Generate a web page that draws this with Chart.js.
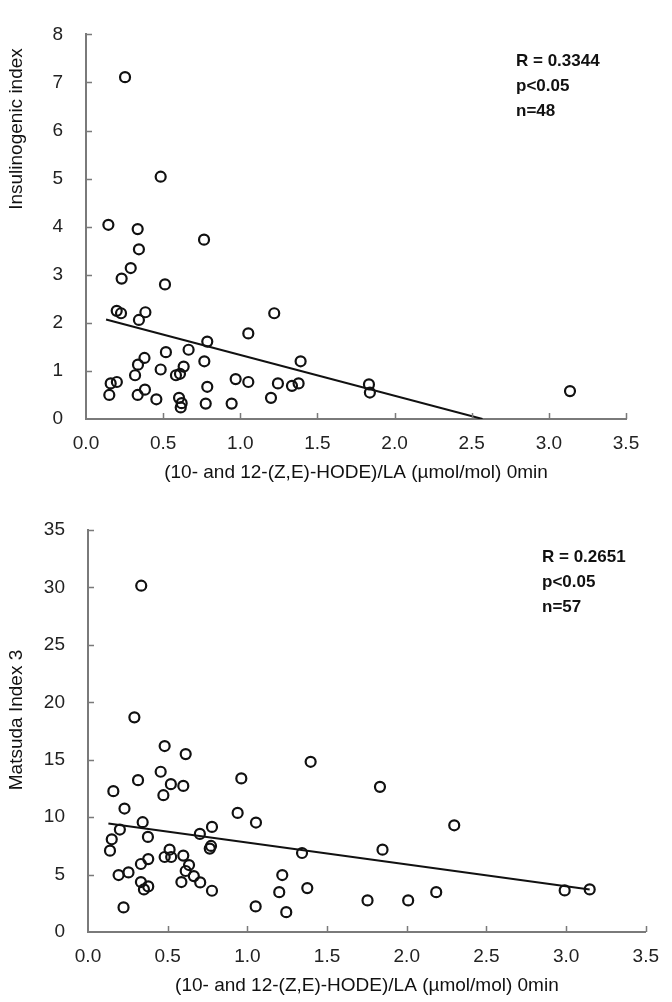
<!DOCTYPE html>
<html>
<head>
<meta charset="utf-8">
<script src="https://cdn.jsdelivr.net/npm/chart.js@4/dist/chart.umd.min.js"></script>
<style>
  body { margin: 0; background: #fff; }
  .box { position: absolute; left: 0; }
</style>
</head>
<body>
<div class="box" style="top:0"><canvas id="chart_top" width="672" height="490"></canvas></div>
<div class="box" style="top:490px"><canvas id="chart_bottom" width="672" height="512"></canvas></div>
<script>
"use strict";

// top panel: HODE/LA vs insulinogenic index (n=48)
var topX = [0.253, 0.484, 0.145, 0.335, 0.765, 0.343, 0.29, 0.231, 0.512, 0.199, 0.227, 0.385,
    0.343, 1.22, 1.052, 0.786, 0.665, 0.518, 0.379, 1.391, 0.767, 0.337, 0.633, 0.484,
    0.583, 0.609, 0.318, 0.97, 1.052, 1.244, 1.335, 1.378, 0.16, 0.2, 0.786, 0.382,
    0.151, 0.335, 0.456, 1.199, 0.603, 0.62, 0.614, 0.776, 0.944, 1.834, 1.84, 3.137];
var topY = [7.11, 5.04, 4.04, 3.95, 3.73, 3.53, 3.14, 2.92, 2.80, 2.25, 2.20, 2.22,
    2.06, 2.20, 1.78, 1.61, 1.44, 1.39, 1.27, 1.20, 1.20, 1.13, 1.09, 1.03,
    0.91, 0.94, 0.91, 0.83, 0.77, 0.74, 0.69, 0.74, 0.74, 0.77, 0.67, 0.61,
    0.50, 0.50, 0.41, 0.44, 0.44, 0.33, 0.24, 0.32, 0.32, 0.72, 0.55, 0.58];
var topFitX = [0.13, 2.57];
var topFitY = [2.07, 0.0];
var topNotes = ['R = 0.3344', 'p<0.05', 'n=48'];

// bottom panel: HODE/LA vs Matsuda index 3 (n=57)
var bottomX = [0.334, 0.291, 0.481, 0.613, 1.397, 0.456, 0.314, 0.962, 0.52, 0.598, 0.159, 0.473,
    0.229, 0.939, 1.054, 0.343, 0.778, 0.2, 0.702, 0.376, 0.149, 0.772, 0.764, 0.138,
    0.512, 1.343, 0.481, 0.522, 0.598, 0.378, 0.332, 0.634, 0.613, 0.192, 0.254, 1.219,
    0.664, 0.332, 0.586, 0.704, 0.378, 0.351, 0.778, 1.376, 1.2, 0.223, 1.052, 1.244,
    1.832, 2.298, 1.848, 1.754, 2.009, 2.185, 2.991, 3.148];
var bottomY = [30.15, 18.69, 16.19, 15.49, 14.82, 13.95, 13.22, 13.37, 12.87, 12.72, 12.26, 11.91,
    10.75, 10.37, 9.53, 9.56, 9.15, 8.92, 8.54, 8.28, 8.07, 7.49, 7.26, 7.08,
    7.17, 6.88, 6.53, 6.53, 6.65, 6.35, 5.92, 5.83, 5.31, 4.96, 5.19, 4.96,
    4.87, 4.35, 4.35, 4.32, 3.97, 3.71, 3.59, 3.82, 3.47, 2.14, 2.23, 1.73,
    12.64, 9.29, 7.17, 2.75, 2.75, 3.47, 3.62, 3.71];
var bottomFitX = [0.128, 3.148];
var bottomFitY = [9.44, 3.71];
var bottomNotes = ['R = 0.2651', 'p<0.05', 'n=57'];

var xTitle = '(10- and 12-(Z,E)-HODE)/LA (\u00b5mol/mol) 0min';
var axisGray = '#7a7a7a';
var fontFamily = '"Liberation Sans", Arial, sans-serif';

function pairs(xs, ys) {
    return xs.map(function (x, i) { return { x: x, y: ys[i] }; });
}

// inward tick marks, stats text and the rotated y title
var panelMarks = {
    id: 'panelMarks',
    afterDraw: function (chart, args, opts) {
        var ctx = chart.ctx;
        var area = chart.chartArea;
        var xs = chart.scales.x, ys = chart.scales.y;
        ctx.save();
        ctx.strokeStyle = axisGray;
        ctx.lineWidth = 1.5;
        ctx.beginPath();
        xs.ticks.forEach(function (t) {
            if (t.value === xs.min) return;
            var px = Math.round(xs.getPixelForValue(t.value)) + 0.5;
            ctx.moveTo(px, area.bottom);
            ctx.lineTo(px, area.bottom - opts.tickLen);
        });
        ys.ticks.forEach(function (t) {
            if (t.value === ys.min) return;
            var py = Math.round(ys.getPixelForValue(t.value)) + 0.5;
            ctx.moveTo(area.left, py);
            ctx.lineTo(area.left + opts.tickLen, py);
        });
        ctx.stroke();

        ctx.fillStyle = '#111';
        ctx.font = 'bold 17px ' + fontFamily;
        ctx.textBaseline = 'middle';
        ctx.textAlign = 'left';
        opts.notes.forEach(function (line, i) {
            ctx.fillText(line, area.left + opts.noteDx, area.top + opts.noteDy + i * 25);
        });

        ctx.font = '19px ' + fontFamily;
        ctx.textAlign = 'center';
        ctx.translate(opts.titleX, opts.titleY);
        ctx.rotate(-Math.PI / 2);
        ctx.fillText(opts.title, 0, 0);
        ctx.restore();
    }
};

function makeChart(id, xs, ys, fitX, fitY, yMax, yStep, yWidth, pad, marks) {
    var ctx = document.getElementById(id);
    var data = {
        datasets: [
            {
                type: 'scatter',
                data: pairs(xs, ys),
                pointStyle: 'circle',
                pointRadius: 5,
                borderWidth: 2.2,
                borderColor: '#111',
                backgroundColor: 'transparent'
            },
            {
                type: 'line',
                data: pairs(fitX, fitY),
                borderColor: '#111',
                borderWidth: 2,
                pointRadius: 0,
                fill: false
            }
        ]
    };
    var config = {
        type: 'scatter',
        data: data,
        plugins: [panelMarks],
        options: {
            responsive: false,
            animation: false,
            devicePixelRatio: 1,
            layout: { padding: pad },
            plugins: {
                legend: { display: false },
                tooltip: { enabled: false },
                panelMarks: marks
            },
            scales: {
                x: {
                    type: 'linear',
                    min: 0,
                    max: 3.5,
                    afterFit: function (scale) { scale.height = 70; },
                    ticks: {
                        stepSize: 0.5,
                        padding: 13,
                        color: '#222',
                        font: { family: fontFamily, size: 19 },
                        callback: function (v) { return v.toFixed(1); }
                    },
                    grid: { display: true, drawOnChartArea: false, drawTicks: false },
                    border: { color: axisGray, width: 2 },
                    title: {
                        display: true,
                        text: xTitle,
                        color: '#111',
                        padding: { top: 0, bottom: 5 },
                        font: { family: fontFamily, size: 19 }
                    }
                },
                y: {
                    type: 'linear',
                    min: 0,
                    max: yMax,
                    afterFit: function (scale) { scale.width = yWidth; },
                    ticks: {
                        stepSize: yStep,
                        padding: 23,
                        color: '#222',
                        font: { family: fontFamily, size: 19 }
                    },
                    grid: { display: true, drawOnChartArea: false, drawTicks: false },
                    border: { color: axisGray, width: 2 }
                }
            }
        }
    };
    return new Chart(ctx, config);
}

makeChart('chart_top', topX, topY, topFitX, topFitY, 8, 1, 86,
    { top: 13, right: 46, bottom: 1, left: 0 },
    { tickLen: 6, notes: topNotes, noteDx: 430, noteDy: 27,
      title: 'Insulinogenic index', titleX: 17, titleY: 129 });

makeChart('chart_bottom', bottomX, bottomY, bottomFitX, bottomFitY, 35, 5, 88,
    { top: 40, right: 17, bottom: 0, left: 0 },
    { tickLen: 6, notes: bottomNotes, noteDx: 454, noteDy: 27,
      title: 'Matsuda Index 3', titleX: 17, titleY: 230 });
</script>
</body>
</html>
